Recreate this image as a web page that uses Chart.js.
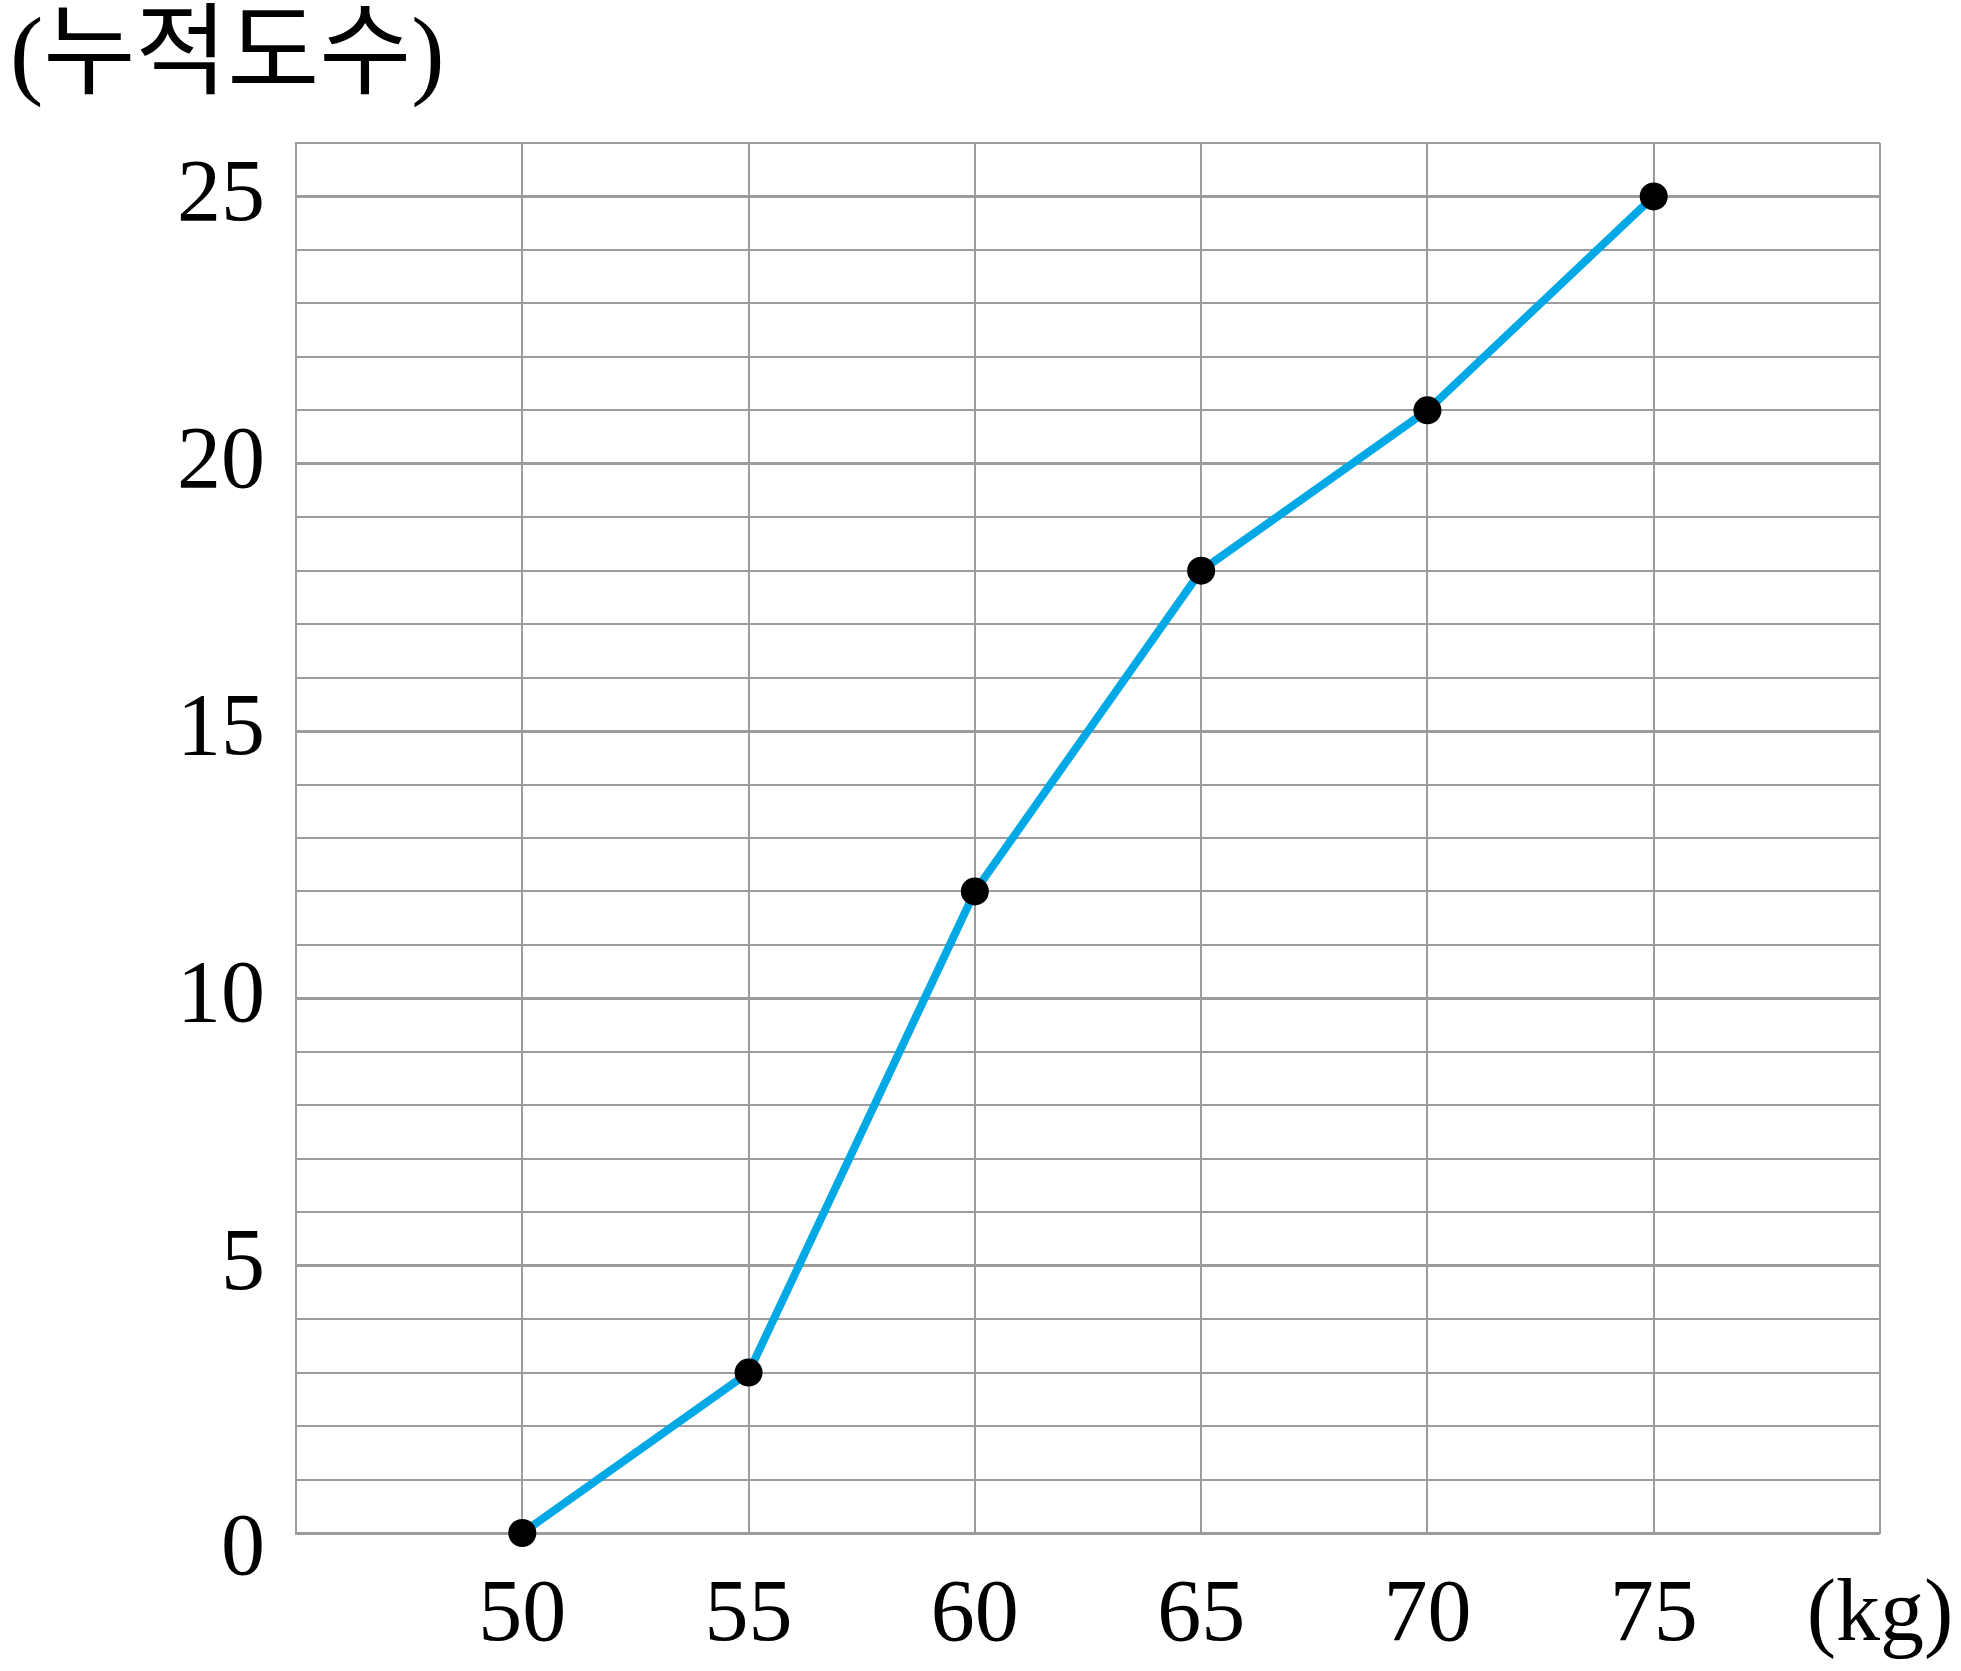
<!DOCTYPE html>
<html>
<head>
<meta charset="utf-8">
<script src="https://cdn.jsdelivr.net/npm/chart.js@4"></script>
<style>
  html, body { margin: 0; padding: 0; background: #fff; }
</style>
</head>
<body>
<canvas id="chart" width="1961" height="1671"></canvas>
<script>
// 몸무게 (kg) 와 누적도수
const weights = [50, 55, 60, 65, 70, 75];
const cumFreq = [0, 3, 12, 18, 21, 25];

// x 축 눈금 (45 ~ 80, 5 간격)
const xTickLabels = ['', '50', '55', '60', '65', '70', '75', '(kg)'];
// y 축은 1 간격 격자, 5 마다 숫자
const yLabelStep = 5;

const gridColor = '#9c9c9e';
const numFamily = "'Liberation Serif', 'DejaVu Serif', serif";
const numFont = { family: numFamily, size: 88, weight: 'normal' };

const ctx = document.getElementById('chart').getContext('2d');

new Chart(ctx, {
    type: 'line',
    data: {
        datasets: [{
            data: weights.map((w, i) => ({ x: w, y: cumFreq[i] })),
            borderColor: '#00a9e6',
            borderWidth: 8,
            pointRadius: 14,
            pointBackgroundColor: '#000',
            pointBorderColor: '#000',
            pointBorderWidth: 0,
            tension: 0,
            clip: false
        }]
    },
    options: {
        responsive: false,
        animation: false,
        layout: {
            padding: { left: 10, right: 81, top: 0, bottom: 0 }
        },
        plugins: {
            legend: { display: false },
            tooltip: { enabled: false },
            title: {
                display: true,
                text: '(누적도수)',
                align: 'start',
                color: '#000',
                font: { family: "'Liberation Serif', 'Noto Sans CJK KR'", size: 100, weight: 'normal', lineHeight: 1.2 },
                padding: { top: 0, bottom: 23 }
            }
        },
        scales: {
            x: {
                type: 'linear',
                min: 45,
                max: 80,
                ticks: {
                    stepSize: 5,
                    autoSkip: false,
                    maxRotation: 0,
                    padding: 31,
                    color: '#000',
                    font: numFont,
                    callback: (v, i) => xTickLabels[i]
                },
                grid: { color: gridColor, lineWidth: 2, drawTicks: false },
                border: { color: gridColor, width: 2 },
                afterFit: s => {
                    s.height = 138;
                    s.paddingLeft = 0;
                    s.paddingRight = 0;
                }
            },
            y: {
                min: 0,
                max: 26,
                ticks: {
                    stepSize: 1,
                    autoSkip: false,
                    padding: 31,
                    color: '#000',
                    // 0 은 축선 아래로 조금 내려서 표시
                    font: c => (c.tick && c.tick.value === 0
                        ? { family: numFamily, size: 88, lineHeight: '35px' }
                        : numFont),
                    callback: v => {
                        if (v === 0) return ['', '0'];
                        return v % yLabelStep === 0 ? String(v) : '';
                    }
                },
                grid: {
                    color: gridColor,
                    lineWidth: c => (c.tick && c.tick.value % yLabelStep === 0 ? 3 : 2),
                    drawTicks: false
                },
                border: { color: gridColor, width: 2 },
                afterFit: s => { s.width = 286; }
            }
        }
    }
});
</script>
</body>
</html>
